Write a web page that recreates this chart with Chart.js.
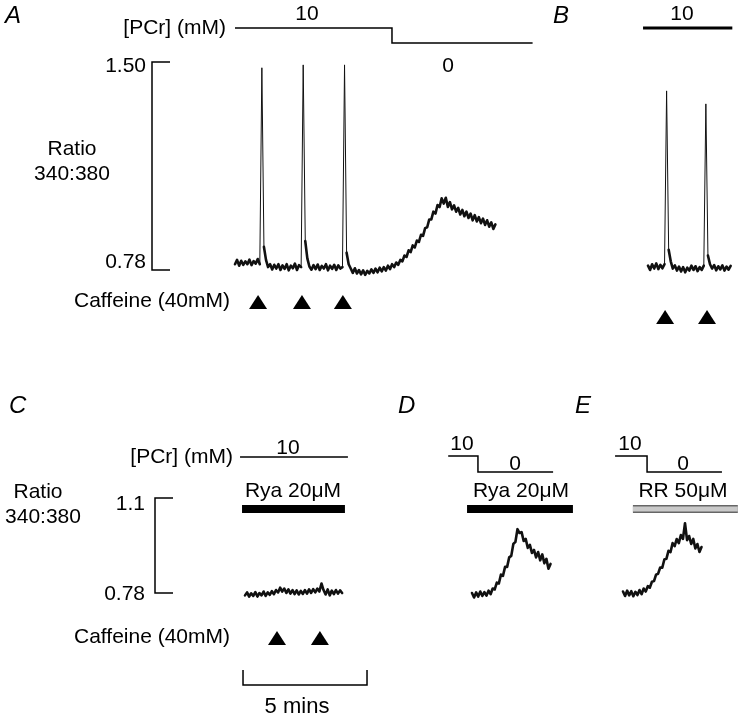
<!DOCTYPE html>
<html>
<head>
<meta charset="utf-8">
<script src="https://cdn.jsdelivr.net/npm/chart.js@4.4.0/dist/chart.umd.min.js"></script>
<style>
html, body { margin: 0; padding: 0; background: #fff; }
#fig { position: relative; width: 742px; height: 717px; }
#fig canvas { position: absolute; left: 0; top: 0; }
</style>
</head>
<body>
<div id="fig">
  <canvas id="panelA" width="742" height="717"></canvas>
  <canvas id="panelB" width="742" height="717"></canvas>
  <canvas id="panelC" width="742" height="717"></canvas>
  <canvas id="panelD" width="742" height="717"></canvas>
  <canvas id="panelE" width="742" height="717"></canvas>
</div>
<script>
// every trace is sampled every 5 s (time axis in minutes)
const DT = 1 / 12;

// 340:380 ratio traces
const ratioA = [0.80, 0.815, 0.795, 0.812, 0.798, 0.81, 0.80, 0.816, 0.797, 0.811, 0.802, 0.818, 0.80,
  1.48, 0.86, 0.815,
  0.79, 0.80, 0.782, 0.798, 0.785, 0.80, 0.78, 0.796, 0.784, 0.80, 0.779, 0.795, 0.786, 0.802, 0.78, 0.797, 0.79,
  1.49, 0.88, 0.82,
  0.792, 0.781, 0.797, 0.783, 0.799, 0.78, 0.794, 0.785, 0.8, 0.779, 0.795, 0.784, 0.798, 0.78, 0.796, 0.785, 0.79,
  1.49, 0.84, 0.80,
  0.785, 0.77, 0.786, 0.768, 0.78, 0.765, 0.779, 0.763, 0.777, 0.768, 0.782, 0.77, 0.785, 0.772, 0.788, 0.775,
  0.79, 0.778, 0.795, 0.783, 0.8, 0.79, 0.806,
  0.798, 0.815, 0.81, 0.83, 0.825, 0.848, 0.842, 0.865, 0.858, 0.882, 0.877, 0.902, 0.898, 0.925, 0.928, 0.955,
  0.955, 0.982, 0.975, 1.005, 0.998, 1.028, 1.01, 1.03, 0.998, 1.015, 0.99, 1.004, 0.982, 0.995, 0.972, 0.988,
  0.966, 0.982, 0.96, 0.975, 0.952, 0.97, 0.948, 0.963, 0.942, 0.958, 0.936, 0.952, 0.93, 0.945, 0.922, 0.938];

const ratioB = [0.795, 0.78, 0.80, 0.785, 0.803, 0.783, 0.798, 0.786, 0.80,
  1.40, 0.85, 0.81,
  0.785, 0.796, 0.778, 0.792, 0.775, 0.79, 0.772, 0.788, 0.778, 0.795, 0.78, 0.793, 0.776, 0.79, 0.78, 0.795,
  1.355, 0.83, 0.80,
  0.785, 0.797, 0.779, 0.793, 0.782, 0.796, 0.778, 0.792, 0.781, 0.794];

const ratioC = [0.772, 0.782, 0.768, 0.779, 0.77, 0.783, 0.768, 0.78, 0.772, 0.785, 0.77, 0.782, 0.774, 0.786,
  0.776, 0.79, 0.782, 0.798, 0.785, 0.795, 0.78, 0.792, 0.778, 0.79, 0.776, 0.789, 0.775, 0.787, 0.777, 0.79,
  0.778, 0.792, 0.78, 0.793, 0.782, 0.795, 0.785, 0.812, 0.79, 0.775, 0.792, 0.772, 0.788, 0.776, 0.79, 0.778,
  0.789, 0.78];

const ratioD = [0.78, 0.765, 0.782, 0.768, 0.785, 0.77, 0.783, 0.771, 0.788, 0.776, 0.795, 0.792, 0.815, 0.812,
  0.842, 0.838, 0.868, 0.868, 0.9, 0.905, 0.945, 0.952, 0.995, 0.982, 0.985, 0.955, 0.962, 0.932, 0.942, 0.915,
  0.925, 0.9, 0.918, 0.89, 0.91, 0.88, 0.895, 0.862, 0.878];

const ratioE = [0.785, 0.77, 0.788, 0.772, 0.786, 0.769, 0.784, 0.773, 0.79, 0.776, 0.795, 0.785, 0.803, 0.798,
  0.818, 0.82, 0.842, 0.845, 0.866, 0.865, 0.893, 0.895, 0.922, 0.918, 0.948, 0.938, 0.962, 0.948, 0.975, 0.962,
  1.015, 0.958, 0.972, 0.945, 0.962, 0.93, 0.945, 0.918, 0.935];

// caffeine (40 mM) applications, min
const caffeineA = [0.93, 2.70, 4.35];
const caffeineB = [0.69, 2.38];
const caffeineC = [1.29, 3.02];

// [PCr] protocol (mM) against time
const pcrTimesA = [0, 6.33, 12.0];
const pcrLevelsA = [10, 0, 0];
const pcrTimesB = [-0.2, 3.4];
const pcrLevelsB = [10, 10];
const pcrTimesC = [-0.2, 4.15];
const pcrLevelsC = [10, 10];
const pcrTimesD = [-0.96, 0.24, 3.27];
const pcrLevelsD = [10, 0, 0];
const pcrTimesE = [-0.32, 0.97, 3.99];
const pcrLevelsE = [10, 0, 0];

// drug application periods, min
const ryaC = [-0.12, 4.03];
const ryaD = [-0.2, 4.07];
const rrE = [0.40, 4.63];

// scale bar ticks
const ticksAB = [0.78, 1.50];
const ticksCDE = [0.78, 1.1];
const scaleBarMins = 5;

const W = 742, H = 717;
const PX_PER_MIN = 124 / 5;
const FONT = '"Liberation Sans", Arial, Helvetica, sans-serif';

function rowAxis(box, pixelAtZero, pxPerUnit) {
  const min = -(box.bottom - pixelAtZero) / pxPerUnit;
  return { type: 'linear', display: false, min: min, max: min + (box.bottom - box.top) / pxPerUnit };
}

function triangle(ctx, cx, cy, w, h) {
  ctx.beginPath();
  ctx.moveTo(cx, cy - h / 2);
  ctx.lineTo(cx + w / 2, cy + h / 2);
  ctx.lineTo(cx - w / 2, cy + h / 2);
  ctx.closePath();
  ctx.fill();
}

const decor = {
  id: 'decor',
  afterDatasetsDraw(chart, args, o) {
    const ctx = chart.ctx, x = chart.scales.x, y = chart.scales.y;
    ctx.save();
    ctx.fillStyle = '#000';
    ctx.strokeStyle = '#000';
    ctx.lineWidth = 1.5;

    // calibration bracket for the ratio
    if (o.bracket) {
      const b = o.bracket;
      const lo = y.getPixelForValue(b.ticks[0]), hi = y.getPixelForValue(b.ticks[1]);
      ctx.beginPath();
      ctx.moveTo(b.x + 18, hi); ctx.lineTo(b.x, hi); ctx.lineTo(b.x, lo); ctx.lineTo(b.x + 18, lo);
      ctx.stroke();
      ctx.font = '21px ' + FONT;
      ctx.textAlign = 'right';
      ctx.fillText(b.labels[0], b.labelX, lo + b.dy[0]);
      ctx.fillText(b.labels[1], b.labelX, hi + b.dy[1]);
    }

    // caffeine markers
    (o.caffeine || []).forEach(t => triangle(ctx, x.getPixelForValue(t), o.markerY, 18, 14));

    // time scale bar
    if (o.scaleBar) {
      const s = o.scaleBar;
      const x0 = x.getPixelForValue(s.start), x1 = x.getPixelForValue(s.start + s.mins);
      ctx.beginPath();
      ctx.moveTo(x0, s.top); ctx.lineTo(x0, s.bottom); ctx.lineTo(x1, s.bottom); ctx.lineTo(x1, s.top);
      ctx.stroke();
      ctx.font = '22px ' + FONT;
      ctx.textAlign = 'center';
      ctx.fillText(s.mins + ' mins', (x0 + x1) / 2 - 8, s.label);
    }

    (o.texts || []).forEach(t => {
      ctx.font = (t.italic ? 'italic ' : '') + (t.size || 21) + 'px ' + FONT;
      ctx.textAlign = t.align || 'left';
      ctx.fillText(t.t, t.x, t.y);
    });
    ctx.restore();
  }
};

function makePanel(id, p) {
  const box = p.box;
  const datasets = [{
    data: p.trace.map((v, i) => ({ x: i * DT, y: v })),
    yAxisID: 'y', borderColor: '#111', borderWidth: 2.6, borderJoinStyle: 'round', borderCapStyle: 'round',
    // fast transients (caffeine spikes) are drawn as thin strokes, as on the chart recorder
    segment: { borderWidth: c => Math.abs(c.p1.parsed.y - c.p0.parsed.y) > 0.12 ? 1 : 2.6 }
  }, {
    data: p.pcr.times.map((t, i) => ({ x: t, y: p.pcr.levels[i] })),
    yAxisID: 'yPcr', stepped: true, borderColor: '#000', borderWidth: p.pcr.width
  }];
  if (p.drug) {
    if (p.drug.fill) {
      datasets.push({
        data: p.drug.span.map(t => ({ x: t, y: 0 })), yAxisID: 'yDrug',
        borderColor: p.drug.fill, borderWidth: 5, borderCapStyle: 'butt'
      });
    }
    datasets.push({
      data: p.drug.span.map(t => ({ x: t, y: 0 })), yAxisID: 'yDrug',
      borderColor: p.drug.edge, borderWidth: 8, borderCapStyle: 'butt'
    });
  }
  datasets.forEach(d => { d.pointRadius = 0; d.clip = false; });

  return new Chart(document.getElementById(id), {
    type: 'line',
    data: { datasets: datasets },
    options: {
      responsive: false,
      animation: false,
      devicePixelRatio: 1,
      events: [],
      layout: { padding: { left: box.left, right: W - box.right, top: box.top, bottom: H - box.bottom } },
      scales: {
        x: { type: 'linear', display: false,
             min: (box.left - p.t0) / PX_PER_MIN, max: (box.right - p.t0) / PX_PER_MIN },
        y: { type: 'linear', display: false, min: p.yRange[0], max: p.yRange[1] },
        yPcr: rowAxis(box, p.pcr.row0, (p.pcr.row0 - p.pcr.row10) / 10),
        yDrug: rowAxis(box, p.drugRow || 0, 1)
      },
      plugins: {
        legend: { display: false },
        tooltip: { enabled: false },
        decor: {
          bracket: p.bracket, caffeine: p.caffeine, markerY: p.markerY,
          scaleBar: p.scaleBar, texts: p.texts
        }
      }
    },
    plugins: [decor]
  });
}

makePanel('panelA', {
  box: { left: 235, right: 533, top: 62, bottom: 270 }, t0: 235,
  yRange: ticksAB, trace: ratioA,
  pcr: { times: pcrTimesA, levels: pcrLevelsA, row10: 28, row0: 43, width: 1.5 },
  caffeine: caffeineA, markerY: 302,
  bracket: { x: 152, ticks: ticksAB, labels: ['0.78', '1.50'], labelX: 146, dy: [-2, 10] },
  texts: [
    { t: 'A', x: 5, y: 23, italic: true, size: 24 },
    { t: '[PCr] (mM)', x: 226, y: 34, align: 'right' },
    { t: '10', x: 307, y: 20, align: 'center' },
    { t: '0', x: 448, y: 72, align: 'center' },
    { t: 'Ratio', x: 72, y: 155, align: 'center' },
    { t: '340:380', x: 72, y: 180, align: 'center' },
    { t: 'Caffeine (40mM)', x: 230, y: 307, align: 'right' }
  ]
});

makePanel('panelB', {
  box: { left: 643, right: 733, top: 62, bottom: 270 }, t0: 648,
  yRange: ticksAB, trace: ratioB,
  pcr: { times: pcrTimesB, levels: pcrLevelsB, row10: 28, row0: 43, width: 3 },
  caffeine: caffeineB, markerY: 317,
  texts: [
    { t: 'B', x: 553, y: 23, italic: true, size: 24 },
    { t: '10', x: 682, y: 20, align: 'center' }
  ]
});

makePanel('panelC', {
  box: { left: 240, right: 348, top: 498, bottom: 593 }, t0: 245,
  yRange: ticksCDE, trace: ratioC,
  pcr: { times: pcrTimesC, levels: pcrLevelsC, row10: 457, row0: 472, width: 1.5 },
  drug: { span: ryaC, edge: '#000' }, drugRow: 509,
  caffeine: caffeineC, markerY: 638,
  bracket: { x: 155, ticks: ticksCDE, labels: ['0.78', '1.1'], labelX: 145, dy: [7, 12] },
  scaleBar: { start: -0.08, mins: scaleBarMins, top: 670, bottom: 685, label: 713 },
  texts: [
    { t: 'C', x: 9, y: 413, italic: true, size: 24 },
    { t: '[PCr] (mM)', x: 233, y: 463, align: 'right' },
    { t: '10', x: 288, y: 454, align: 'center' },
    { t: 'Ratio', x: 38, y: 498, align: 'center' },
    { t: '340:380', x: 43, y: 523, align: 'center' },
    { t: 'Rya 20\u03bcM', x: 293, y: 497, align: 'center' },
    { t: 'Caffeine (40mM)', x: 230, y: 643, align: 'right' }
  ]
});

makePanel('panelD', {
  box: { left: 448, right: 573, top: 498, bottom: 593 }, t0: 472,
  yRange: ticksCDE, trace: ratioD,
  pcr: { times: pcrTimesD, levels: pcrLevelsD, row10: 456, row0: 472, width: 1.5 },
  drug: { span: ryaD, edge: '#000' }, drugRow: 509,
  texts: [
    { t: 'D', x: 398, y: 413, italic: true, size: 24 },
    { t: '10', x: 462, y: 450, align: 'center' },
    { t: '0', x: 515, y: 470, align: 'center' },
    { t: 'Rya 20\u03bcM', x: 521, y: 497, align: 'center' }
  ]
});

makePanel('panelE', {
  box: { left: 615, right: 738, top: 498, bottom: 593 }, t0: 623,
  yRange: ticksCDE, trace: ratioE,
  pcr: { times: pcrTimesE, levels: pcrLevelsE, row10: 456, row0: 472, width: 1.5 },
  drug: { span: rrE, edge: '#666', fill: '#c9c9c9' }, drugRow: 509,
  texts: [
    { t: 'E', x: 575, y: 413, italic: true, size: 24 },
    { t: '10', x: 630, y: 450, align: 'center' },
    { t: '0', x: 683, y: 470, align: 'center' },
    { t: 'RR 50\u03bcM', x: 683, y: 497, align: 'center' }
  ]
});
</script>
</body>
</html>
